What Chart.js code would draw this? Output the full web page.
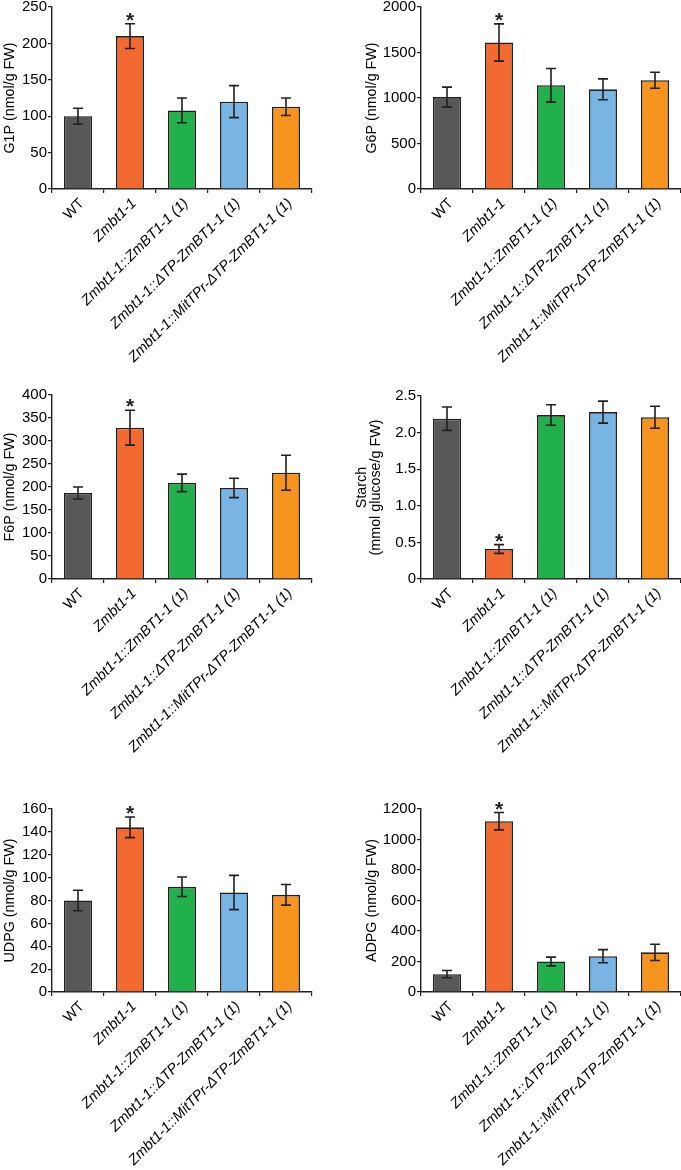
<!DOCTYPE html>
<html><head><meta charset="utf-8">
<script src="https://cdn.jsdelivr.net/npm/chart.js@4.4.1/dist/chart.umd.min.js"></script>
<style>
html,body{margin:0;padding:0;background:#fff;overflow:hidden;width:681px;height:1170px;position:relative}
canvas{position:absolute}
</style></head><body>
<canvas id="c1"></canvas><canvas id="c2"></canvas>
<canvas id="c3"></canvas><canvas id="c4"></canvas>
<canvas id="c5"></canvas><canvas id="c6"></canvas>
<script>
// ---------- data ----------
const categories = ['WT', 'Zmbt1-1', 'Zmbt1-1::ZmBT1-1 (1)', 'Zmbt1-1::ΔTP-ZmBT1-1 (1)', 'Zmbt1-1::MitTPr-ΔTP-ZmBT1-1 (1)'];
const significant = [false, true, false, false, false];

const g1pValues = [100, 210, 108, 120, 113];
const g1pErrors = [11, 17, 17, 22, 12];

const g6pValues = [1010, 1610, 1140, 1095, 1195];
const g6pErrors = [110, 205, 185, 115, 88];

const f6pValues = [187, 329, 209, 198, 231];
const f6pErrors = [13, 38, 19, 21, 38];

const starchValues = [2.19, 0.41, 2.24, 2.28, 2.21];
const starchErrors = [0.16, 0.06, 0.14, 0.15, 0.15];

const udpgValues = [80, 144, 92, 87, 85];
const udpgErrors = [9, 9, 8.5, 15, 9];

const adpgValues = [117, 1120, 200, 235, 260];
const adpgErrors = [24, 57, 29, 43, 53];

const g1pTicks = {max: 250, step: 50};
const g6pTicks = {max: 2000, step: 500};
const f6pTicks = {max: 400, step: 50};
const starchTicks = {max: 2.5, step: 0.5};
const udpgTicks = {max: 160, step: 20};
const adpgTicks = {max: 1200, step: 200};

// ---------- styles ----------
const barColors = ['#58585a', '#f26a2f', '#21b04b', '#79b5e3', '#f7941e'];
const ink = '#231f20';
const FONT = "'Liberation Sans', Arial, sans-serif";

const errorBarPlugin = {
  id: 'errorBars',
  afterDatasetsDraw(chart) {
    const {ctx} = chart;
    const y = chart.scales.y;
    const meta = chart.getDatasetMeta(0);
    const ds = chart.data.datasets[0];
    ctx.save();
    ctx.strokeStyle = ink;
    ctx.lineWidth = 1.6;
    meta.data.forEach((bar, i) => {
      const v = ds.data[i], e = ds.errors[i];
      const x = bar.x;
      const yt = y.getPixelForValue(v + e), yb = y.getPixelForValue(v - e);
      ctx.beginPath();
      ctx.moveTo(x, yt); ctx.lineTo(x, yb);
      ctx.moveTo(x - 5, yt); ctx.lineTo(x + 5, yt);
      ctx.moveTo(x - 5, yb); ctx.lineTo(x + 5, yb);
      ctx.stroke();
      if (ds.significant[i]) {
        ctx.fillStyle = ink;
        ctx.font = 'bold 21px ' + FONT;
        ctx.textAlign = 'center';
        ctx.textBaseline = 'alphabetic';
        ctx.fillText('*', x, yt + 3);
      }
    });
    ctx.restore();
  }
};

function makeChart(p) {
  const cv = document.getElementById(p.id);
  cv.style.left = p.left + 'px';
  cv.style.top = p.top + 'px';
  cv.style.width = p.w + 'px';
  cv.style.height = p.h + 'px';
  cv.width = p.w; cv.height = p.h;
  new Chart(cv, {
    type: 'bar',
    data: {
      labels: categories,
      datasets: [{
        data: p.values,
        errors: p.errors,
        significant: significant,
        backgroundColor: barColors,
        borderColor: ink,
        borderWidth: 1.6,
        barPercentage: 0.54,
        categoryPercentage: 1.0
      }]
    },
    options: {
      responsive: false,
      animation: false,
      layout: {padding: {left: 0, right: p.w - (p.plotRight - p.left), top: p.plotTop - p.top, bottom: 0}},
      plugins: {legend: {display: false}, tooltip: {enabled: false}},
      scales: {
        x: {
          offset: true,
          grid: {display: true, drawOnChartArea: false, drawTicks: true, tickLength: 4, color: ink, lineWidth: 1.2, offset: true},
          border: {display: true, color: ink, width: 1.4},
          ticks: {
            autoSkip: false, minRotation: 45, maxRotation: 45, padding: 2, labelOffset: 4, color: '#000',
            font: (c) => ({family: FONT, size: 14.5, style: c.index === 0 ? 'normal' : 'italic'})
          },
          afterFit: (s) => { s.height = p.h - (p.plotBottom - p.top); }
        },
        y: {
          min: 0, max: p.ticks.max,
          grid: {display: true, drawOnChartArea: false, drawTicks: true, tickLength: 4, color: ink, lineWidth: 1.2},
          border: {display: true, color: ink, width: 1.4},
          ticks: {
            stepSize: p.ticks.step, padding: 1, color: '#000',
            font: {family: FONT, size: 15},
            callback: (v) => p.decimals ? (v === 0 ? '0' : v.toFixed(p.decimals)) : String(v)
          },
          title: {display: true, text: p.title, color: '#000', padding: {top: p.titlePad, bottom: 0},
                  font: {family: FONT, size: 14.3, lineHeight: p.titleLH || 1.2}},
          afterFit: (s) => { s.width = p.axisW; }
        }
      }
    },
    plugins: [errorBarPlugin]
  });
}

const panels = [
  {id: 'c1', left: 0, top: -20, w: 340, h: 400, axisW: 52, plotTop: 7, plotBottom: 189, plotRight: 312,
   title: 'G1P (nmol/g FW)', titlePad: 1, values: g1pValues, errors: g1pErrors, ticks: g1pTicks, decimals: 0},
  {id: 'c2', left: 340, top: -20, w: 345, h: 400, axisW: 81, plotTop: 7, plotBottom: 189, plotRight: 681,
   title: 'G6P (nmol/g FW)', titlePad: 23.5, values: g6pValues, errors: g6pErrors, ticks: g6pTicks, decimals: 0},
  {id: 'c3', left: 0, top: 370, w: 340, h: 400, axisW: 52, plotTop: 395, plotBottom: 579, plotRight: 312,
   title: 'F6P (nmol/g FW)', titlePad: 1, values: f6pValues, errors: f6pErrors, ticks: f6pTicks, decimals: 0},
  {id: 'c4', left: 340, top: 370, w: 345, h: 400, axisW: 81, plotTop: 396, plotBottom: 579, plotRight: 681,
   title: ['Starch', '(mmol glucose/g FW)'], titlePad: 15, titleLH: 1.0, values: starchValues, errors: starchErrors, ticks: starchTicks, decimals: 1},
  {id: 'c5', left: 0, top: 780, w: 340, h: 390, axisW: 52, plotTop: 809, plotBottom: 992, plotRight: 312,
   title: 'UDPG (nmol/g FW)', titlePad: 1, values: udpgValues, errors: udpgErrors, ticks: udpgTicks, decimals: 0},
  {id: 'c6', left: 340, top: 780, w: 345, h: 390, axisW: 81, plotTop: 809, plotBottom: 992, plotRight: 681,
   title: 'ADPG (nmol/g FW)', titlePad: 23.5, values: adpgValues, errors: adpgErrors, ticks: adpgTicks, decimals: 0}
];
panels.forEach(makeChart);
</script>
</body></html>
